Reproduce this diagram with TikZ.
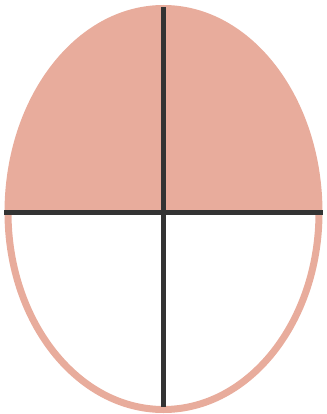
\documentclass[tikz,border=0pt]{standalone}
\definecolor{salmon}{HTML}{E8AC9C}
\definecolor{darkline}{HTML}{333333}
\tikzset{
  shell/.style={draw=salmon, line width=7pt},
  axisline/.style={draw=darkline, line width=5pt},
}
\begin{document}
\begin{tikzpicture}[x=1pt,y=-1pt]
\useasboundingbox (0,0) rectangle (326,414);
% top half filled
\fill[salmon] (8,212.5) arc[start angle=180, end angle=360, x radius=155.5, y radius=204] -- cycle;
\draw[shell] (8,212.5) arc[start angle=180, end angle=360, x radius=155.5, y radius=204];
% bottom half outline
\draw[shell] (8,212.5) arc[start angle=180, end angle=0, x radius=155.5, y radius=197];
\coordinate (hl) at (4,212.5);
\coordinate (hr) at (323,212.5);
\coordinate (vt) at (163.5,7);
\coordinate (vb) at (163.5,407);
\draw[axisline] (hl) -- (hr);
\draw[axisline] (vt) -- (vb);
\end{tikzpicture}
\end{document}
